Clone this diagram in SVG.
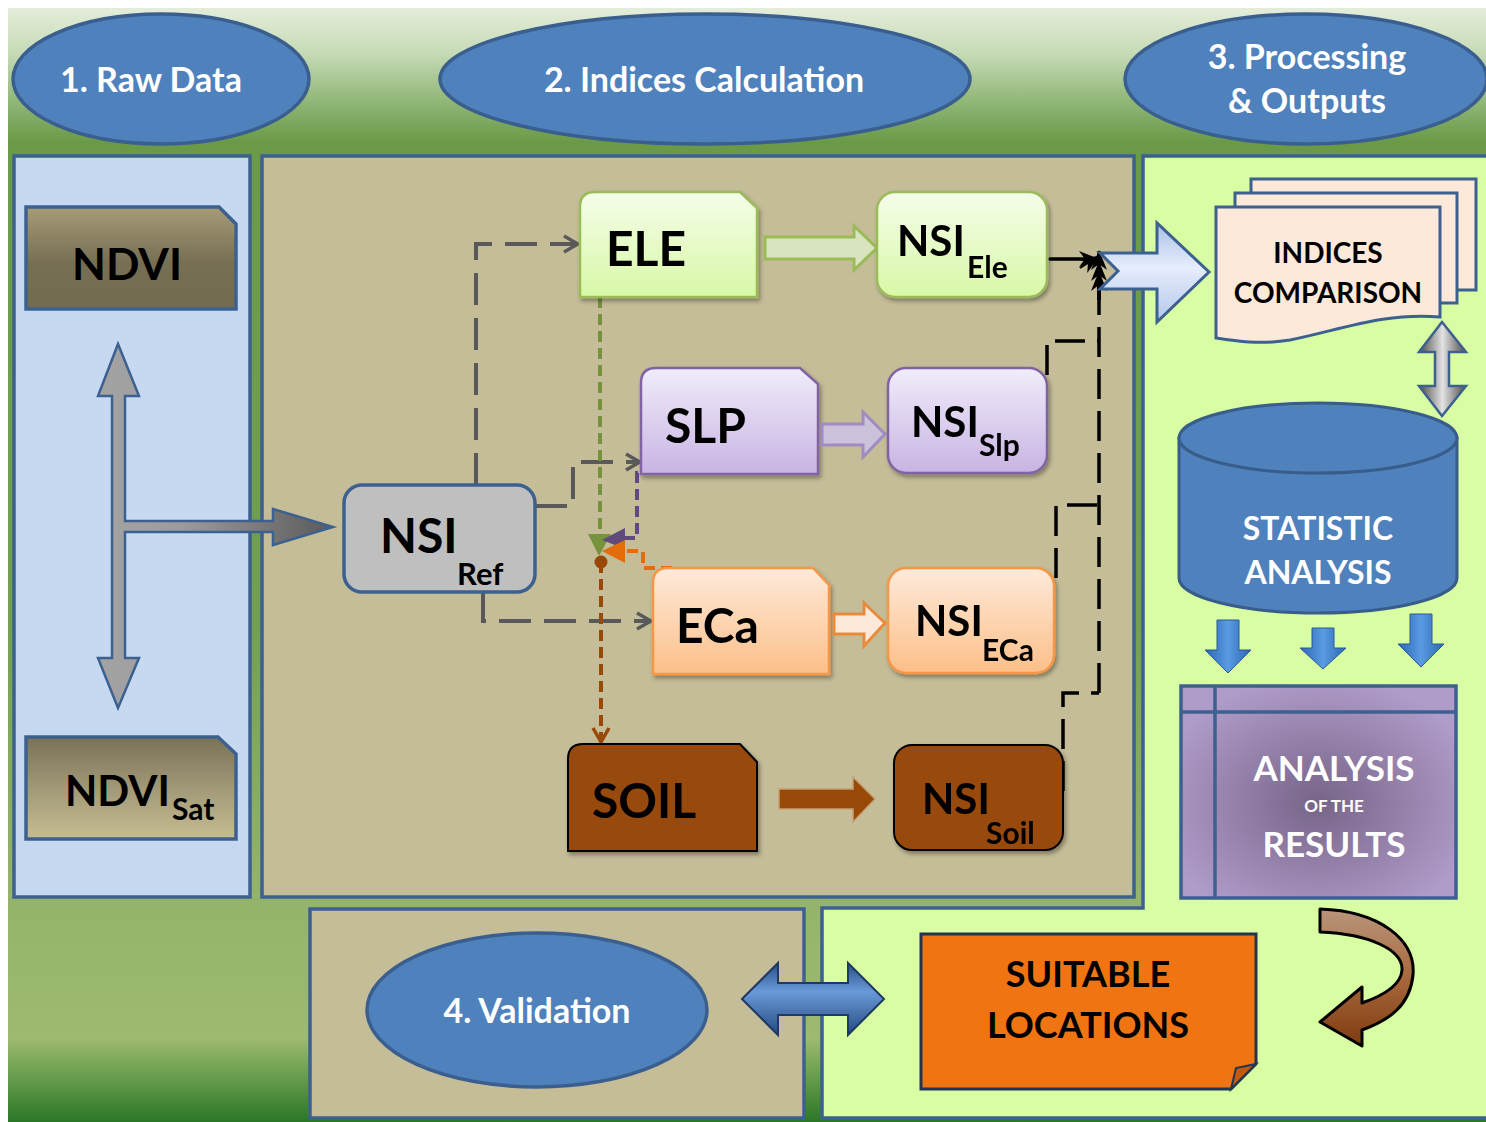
<svg xmlns="http://www.w3.org/2000/svg" width="1486" height="1122" viewBox="0 0 1486 1122">
<defs>
<style>
.t{font-family:Lato,"Open Sans","Liberation Sans",sans-serif;font-weight:700;}
.hdr{fill:#4f81bd;stroke:#3a5f8f;stroke-width:3.5;}
.ht{fill:#ffffff;font-size:34px;text-anchor:middle;}
.panel{stroke:#3c6190;stroke-width:3.5;}
.blk{fill:#000000;}
.wht{fill:#ffffff;}
.gd{fill:none;stroke:#595959;stroke-width:4;stroke-dasharray:32 13;}
.bd{fill:none;stroke:#000000;stroke-width:3.5;stroke-dasharray:30 12;}
</style>
<linearGradient id="bg" x1="0" y1="0" x2="0" y2="1">
<stop offset="0" stop-color="#e4edda"/>
<stop offset="0.04" stop-color="#c7dbb6"/>
<stop offset="0.085" stop-color="#8fb676"/>
<stop offset="0.12" stop-color="#6a9a48"/>
<stop offset="0.55" stop-color="#72a050"/>
<stop offset="0.8" stop-color="#95b46b"/>
<stop offset="0.925" stop-color="#9db972"/>
<stop offset="0.95" stop-color="#76a556"/>
<stop offset="1" stop-color="#2b7727"/>
</linearGradient>
<linearGradient id="gNdvi" x1="0" y1="0" x2="0" y2="1">
<stop offset="0" stop-color="#a79b78"/><stop offset="0.55" stop-color="#776f53"/><stop offset="1" stop-color="#736b50"/>
</linearGradient>
<linearGradient id="gNdviSat" x1="0" y1="0" x2="0" y2="1">
<stop offset="0" stop-color="#7a7256"/><stop offset="0.5" stop-color="#a19877"/><stop offset="1" stop-color="#c6bd92"/>
</linearGradient>
<linearGradient id="gCross" x1="98" y1="0" x2="333" y2="0" gradientUnits="userSpaceOnUse">
<stop offset="0" stop-color="#a3a3a3"/><stop offset="0.35" stop-color="#9c9c9c"/><stop offset="1" stop-color="#5a5a5a"/>
</linearGradient>
<linearGradient id="gEle" x1="0" y1="0" x2="0" y2="1">
<stop offset="0" stop-color="#f5fdea"/><stop offset="1" stop-color="#d8f8a6"/>
</linearGradient>
<linearGradient id="gSlp" x1="0" y1="0" x2="0" y2="1">
<stop offset="0" stop-color="#f1ecfa"/><stop offset="1" stop-color="#c8b4e3"/>
</linearGradient>
<linearGradient id="gEca" x1="0" y1="0" x2="0" y2="1">
<stop offset="0" stop-color="#feeadb"/><stop offset="1" stop-color="#fcbf88"/>
</linearGradient>
<linearGradient id="gBig" x1="0" y1="0" x2="0" y2="1">
<stop offset="0" stop-color="#a9c0e6"/><stop offset="0.45" stop-color="#e6edfc"/><stop offset="1" stop-color="#b3c7ea"/>
</linearGradient>
<linearGradient id="gMetal" x1="0" y1="0" x2="1" y2="0">
<stop offset="0" stop-color="#4a4a4a"/><stop offset="0.5" stop-color="#e2e2e2"/><stop offset="1" stop-color="#4a4a4a"/>
</linearGradient>
<linearGradient id="gDown" x1="0" y1="0" x2="1" y2="0">
<stop offset="0" stop-color="#2c66b4"/><stop offset="0.5" stop-color="#5a9be2"/><stop offset="1" stop-color="#2c66b4"/>
</linearGradient>
<linearGradient id="gVal" x1="0" y1="0" x2="0" y2="1">
<stop offset="0" stop-color="#274f86"/><stop offset="0.4" stop-color="#6a9ad8"/><stop offset="1" stop-color="#244a80"/>
</linearGradient>
<radialGradient id="gRes" cx="0.5" cy="0.55" r="0.6">
<stop offset="0" stop-color="#776488"/><stop offset="1" stop-color="#b09cc9"/>
</radialGradient>
<linearGradient id="gCurve" x1="0" y1="0" x2="0" y2="1">
<stop offset="0" stop-color="#b9967c"/><stop offset="0.5" stop-color="#a8683c"/><stop offset="1" stop-color="#7e3a10"/>
</linearGradient>
<filter id="sh" x="-10%" y="-10%" width="125%" height="130%">
<feDropShadow dx="2" dy="3" stdDeviation="2" flood-color="#000" flood-opacity="0.35"/>
</filter>
<marker id="mg" viewBox="0 0 20 20" refX="18" refY="10" markerWidth="20" markerHeight="20" markerUnits="userSpaceOnUse" orient="auto">
<path d="M4,2 L18,10 L4,18" fill="none" stroke="#595959" stroke-width="3.5"/>
</marker>
<marker id="mbr" viewBox="0 0 20 20" refX="18" refY="10" markerWidth="20" markerHeight="20" markerUnits="userSpaceOnUse" orient="auto">
<path d="M4,2 L18,10 L4,18" fill="none" stroke="#984807" stroke-width="3.5"/>
</marker>
<marker id="mk" viewBox="0 0 20 16" refX="19" refY="8" markerWidth="20" markerHeight="16" markerUnits="userSpaceOnUse" orient="auto">
<path d="M0,0 L20,8 L0,16 L6,8 Z" fill="#000"/>
</marker>
</defs>

<!-- background -->
<rect x="0" y="0" width="1486" height="1122" fill="#ffffff"/>
<rect x="8" y="8" width="1478" height="1114" fill="url(#bg)"/>

<!-- panels -->
<g id="panels">
<rect class="panel" x="14" y="156" width="236" height="741" fill="#c6d9f1"/>
<rect class="panel" x="262" y="156" width="872" height="741" fill="#c4bd97"/>
<path class="panel" d="M1143,156 H1490 V1118 H822 V908 H1143 Z" fill="#d8fda2"/>
<rect class="panel" x="310" y="909" width="494" height="209" fill="#c4bd97"/>
</g>

<!-- header ellipses -->
<g id="h1">
<ellipse class="hdr" cx="161" cy="79" rx="148" ry="65"/>
<text class="t ht" x="151" y="92">1. Raw Data</text>
</g>
<g id="h2">
<ellipse class="hdr" cx="705" cy="79" rx="265" ry="65"/>
<text class="t ht" x="704" y="92">2. Indices Calculation</text>
</g>
<g id="h3">
<ellipse class="hdr" cx="1306" cy="79" rx="181" ry="65"/>
<text class="t ht" x="1307" y="69">3. Processing</text>
<text class="t ht" x="1307" y="113">&amp; Outputs</text>
</g>

<!-- raw data -->
<g id="ndvi">
<path d="M26,207 H219 L236,224 V309 H26 Z" fill="url(#gNdvi)" stroke="#3c6190" stroke-width="3.5"/>
<text class="t blk" x="127" y="280" font-size="44" text-anchor="middle">NDVI</text>
</g>
<g id="ndvisat">
<path d="M26,737 H218 L236,754 V839 H26 Z" fill="url(#gNdviSat)" stroke="#3c6190" stroke-width="3.5"/>
<text class="t blk" x="65" y="806" font-size="42">NDVI</text>
<text class="t blk" x="172" y="820" font-size="30">Sat</text>
</g>
<g id="crossArrow">
<path d="M118,344 L139,396 L125,396 L125,521 L273,521 L273,509 L333,527 L273,545 L273,532 L125,532 L125,658 L139,658 L118,708 L98,658 L112,658 L112,396 L98,396 Z" fill="url(#gCross)" stroke="#3c6190" stroke-width="2.5" stroke-linejoin="miter"/>
</g>

<!-- connectors -->
<g id="connectors">
<path class="gd" d="M476,485 V244 H578" marker-end="url(#mg)"/>
<path class="gd" d="M535,506 H573 V462 H640" marker-end="url(#mg)"/>
<path class="gd" d="M483,592 V621 H651" marker-end="url(#mg)"/>
<path d="M600,297 V536" fill="none" stroke="#76923c" stroke-width="4" stroke-dasharray="11 6"/>
<polygon points="588,534 611,534 599,556" fill="#76923c"/>
<path d="M672,473 H637 V538 H624" fill="none" stroke="#604a7b" stroke-width="4" stroke-dasharray="11 6"/>
<polygon points="602,540 625,528 625,549" fill="#604a7b"/>
<path d="M672,568 H643 V551 H624" fill="none" stroke="#e46c0a" stroke-width="4" stroke-dasharray="11 6"/>
<polygon points="602,551 625,540 625,563" fill="#e46c0a"/>
<path d="M601,562 V742" fill="none" stroke="#984807" stroke-width="4" stroke-dasharray="11 6" marker-end="url(#mbr)"/>
<circle cx="601" cy="562" r="6.5" fill="#984807"/>
<path d="M1050,259 H1098" fill="none" stroke="#000" stroke-width="3.5" stroke-linecap="round" marker-end="url(#mk)"/>
<path class="bd" d="M1099,693 V251" marker-end="url(#mk)"/>
<path d="M1099,300 V262" fill="none" stroke="#000" stroke-width="3.5" marker-end="url(#mk)"/>
<path d="M1099,300 V272" fill="none" stroke="#000" stroke-width="3.5" marker-end="url(#mk)"/>
<path d="M1080,268 L1099,256" fill="none" stroke="#000" stroke-width="2" marker-end="url(#mk)"/>
<path class="bd" d="M1047,375 V341 H1099"/>
<path class="bd" d="M1056,578 V505 H1099"/>
<path class="bd" d="M1063,791 V693 H1099"/>
</g>

<!-- nodes middle -->
<g id="nsiRef">
<rect x="344" y="485" width="191" height="107" rx="18" fill="#bfbfbf" stroke="#3c6190" stroke-width="3.5"/>
<text class="t blk" x="380" y="553" font-size="48">NSI</text>
<text class="t blk" x="457" y="585" font-size="31">Ref</text>
</g>
<g id="ele" filter="url(#sh)">
<path d="M580,207 Q580,192 595,192 H740 L757,208 V297 H580 Z" fill="url(#gEle)" stroke="#9bbb59" stroke-width="2.5"/>
<text class="t blk" x="606" y="266" font-size="48">ELE</text>
</g>
<g id="slp" filter="url(#sh)">
<path d="M641,383 Q641,368 656,368 H800 L818,384 V474 H641 Z" fill="url(#gSlp)" stroke="#8064a2" stroke-width="2.5"/>
<text class="t blk" x="665" y="443" font-size="48">SLP</text>
</g>
<g id="eca" filter="url(#sh)">
<path d="M653,583 Q653,568 668,568 H813 L829,585 V674 H653 Z" fill="url(#gEca)" stroke="#f79646" stroke-width="2.5"/>
<text class="t blk" x="676" y="643" font-size="48">ECa</text>
</g>
<g id="soil" filter="url(#sh)">
<path d="M568,759 Q568,744 583,744 H740 L757,762 V851 H568 Z" fill="#984807" stroke="#000" stroke-width="2"/>
<text class="t blk" x="592" y="818" font-size="48">SOIL</text>
</g>

<!-- fat arrows -->
<g id="fatArrows">
<polygon points="765,237 854,237 854,226 877,248 854,270 854,259 765,259" fill="#d7e4bd" stroke="#9bbb59" stroke-width="3"/>
<polygon points="822,424 863,424 863,412 885,434 863,457 863,445 822,445" fill="#ccc1da" stroke="#a08cc0" stroke-width="3"/>
<polygon points="834,614 864,614 864,603 885,623 864,646 864,634 834,634" fill="#fde9d9" stroke="#e98b3c" stroke-width="3"/>
<polygon points="779,789 853,789 853,777 875,799 853,822 853,809 779,809" fill="#984807" stroke="#c8a070" stroke-width="1.5"/>
</g>

<g id="nsiEle" filter="url(#sh)">
<rect x="877" y="192" width="170" height="105" rx="18" fill="url(#gEle)" stroke="#9bbb59" stroke-width="2.5"/>
<text class="t blk" x="897" y="256" font-size="42">NSI</text>
<text class="t blk" x="967" y="278" font-size="30">Ele</text>
</g>
<g id="nsiSlp" filter="url(#sh)">
<rect x="888" y="368" width="159" height="105" rx="18" fill="url(#gSlp)" stroke="#8064a2" stroke-width="2.5"/>
<text class="t blk" x="911" y="437" font-size="42">NSI</text>
<text class="t blk" x="979" y="456" font-size="30">Slp</text>
</g>
<g id="nsiEca" filter="url(#sh)">
<rect x="888" y="568" width="166" height="105" rx="18" fill="url(#gEca)" stroke="#f79646" stroke-width="2.5"/>
<text class="t blk" x="915" y="636" font-size="42">NSI</text>
<text class="t blk" x="982" y="661" font-size="30">ECa</text>
</g>
<g id="nsiSoil" filter="url(#sh)">
<rect x="894" y="745" width="169" height="105" rx="18" fill="#984807" stroke="#000" stroke-width="2"/>
<text class="t blk" x="922" y="814" font-size="42">NSI</text>
<text class="t blk" x="986" y="844" font-size="30">Soil</text>
</g>

<!-- processing -->
<g id="bigArrow">
<polygon points="1100,253 1157,253 1157,223 1209,272 1157,322 1157,289 1100,289 1118,271" fill="url(#gBig)" stroke="#3c6190" stroke-width="3"/>
</g>
<g id="indices">
<rect x="1251" y="179" width="225" height="111" fill="#fde9d9" stroke="#3c6190" stroke-width="3"/>
<rect x="1235" y="193" width="222" height="110" fill="#fde9d9" stroke="#3c6190" stroke-width="3"/>
<path d="M1216,207 H1440 V317 C1385,312 1340,330 1290,340 C1260,345 1235,341 1216,338 Z" fill="#fde9d9" stroke="#3c6190" stroke-width="3"/>
<text class="t blk" x="1328" y="263" font-size="28" text-anchor="middle">INDICES</text>
<text class="t blk" x="1328" y="303" font-size="28" text-anchor="middle">COMPARISON</text>
</g>
<g id="vArrow">
<polygon points="1442,322 1466,352 1449,352 1449,386 1466,386 1442,416 1419,386 1435,386 1435,352 1419,352" fill="url(#gMetal)" stroke="#3c6190" stroke-width="2.5"/>
</g>
<g id="statistic">
<path d="M1179,438 V578 A139,35 0 0 0 1457,578 V438 Z" fill="#4f81bd" stroke="#385d8a" stroke-width="3"/>
<ellipse cx="1318" cy="438" rx="139" ry="35" fill="#4f81bd" stroke="#385d8a" stroke-width="3"/>
<text class="t wht" x="1318" y="540" font-size="32" text-anchor="middle">STATISTIC</text>
<text class="t wht" x="1318" y="584" font-size="32" text-anchor="middle">ANALYSIS</text>
</g>
<g id="downArrows">
<polygon points="1217,620 1239,620 1239,650 1251,650 1228,673 1205,650 1217,650" fill="url(#gDown)" stroke="#2a5a9a" stroke-width="1"/>
<polygon points="1312,628 1334,628 1334,648 1346,648 1323,669 1300,648 1312,648" fill="url(#gDown)" stroke="#2a5a9a" stroke-width="1"/>
<polygon points="1410,614 1432,614 1432,644 1444,644 1421,667 1398,644 1410,644" fill="url(#gDown)" stroke="#2a5a9a" stroke-width="1"/>
</g>
<g id="results">
<rect x="1181" y="686" width="275" height="212" fill="url(#gRes)" stroke="#3c6190" stroke-width="3.5"/>
<path d="M1181,712 H1456 M1215,686 V898" stroke="#3c6190" stroke-width="3.5" fill="none"/>
<text class="t wht" x="1334" y="781" font-size="35" text-anchor="middle">ANALYSIS</text>
<text class="t wht" x="1334" y="812" font-size="17" text-anchor="middle">OF THE</text>
<text class="t wht" x="1334" y="857" font-size="35" text-anchor="middle">RESULTS</text>
</g>
<g id="curveArrow">
<path d="M1320,909 C1380,911 1416,940 1413,975 C1410,1005 1390,1020 1362,1030 L1362,1046 L1320,1022 L1362,987 L1362,1003 C1385,995 1401,985 1402,970 C1403,950 1370,934 1320,932 Z" fill="url(#gCurve)" stroke="#000" stroke-width="3" stroke-linejoin="round"/>
</g>
<g id="suitable">
<path d="M921,934 H1256 V1064 L1231,1089 H921 Z" fill="#f07412" stroke="#1f3552" stroke-width="3"/>
<path d="M1231,1089 L1236,1068 L1256,1064 Z" fill="#c45a08" stroke="#1f3552" stroke-width="2"/>
<text class="t blk" x="1088" y="987" font-size="36" text-anchor="middle">SUITABLE</text>
<text class="t blk" x="1088" y="1038" font-size="36" text-anchor="middle">LOCATIONS</text>
</g>

<!-- validation -->
<g id="validation">
<ellipse class="hdr" cx="537" cy="1010" rx="170" ry="77"/>
<text class="t ht" x="537" y="1023">4. Validation</text>
</g>
<g id="valArrow">
<polygon points="742,999 778,963 778,983 848,983 848,963 884,999 848,1035 848,1015 778,1015 778,1035" fill="url(#gVal)" stroke="#1f3864" stroke-width="2"/>
</g>
</svg>
